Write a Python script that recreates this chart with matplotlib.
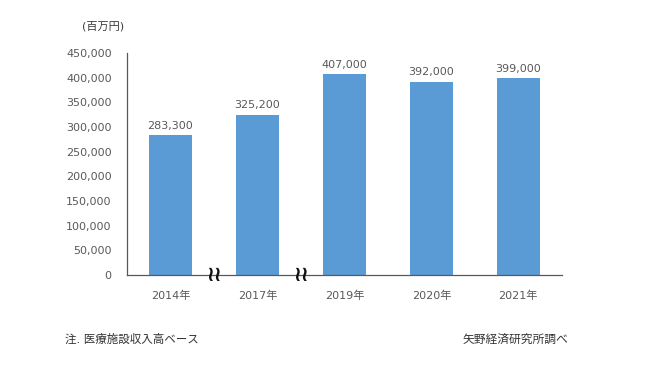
import numpy as np
import matplotlib.pyplot as plt

plt.rcParams['font.family'] = ['DejaVu Sans', 'Noto Sans CJK JP']

years = ["2014年", "2017年", "2019年", "2020年", "2021年"]
values = [283300, 325200, 407000, 392000, 399000]
yticks = np.arange(0, 450001, 50000)

gray = "#595959"
fig = plt.figure(figsize=(6.68, 3.76), dpi=100)
ax = fig.add_axes([0.190, 0.269, 0.651, 0.590])

x = np.arange(len(years))
ax.bar(x, values, width=0.5, color="#5B9BD5", zorder=2)
for xi, v in zip(x, values):
    ax.text(xi, v + 9000, f"{v:,}", ha="center", va="bottom", fontsize=8, color=gray)

ax.set_xlim(-0.5, len(years) - 0.5)
ax.set_ylim(0, 450000)
ax.set_yticks(yticks)
ax.set_yticklabels([f"{t:,}" for t in yticks], fontsize=8, color=gray)
ax.set_xticks(x)
ax.set_xticklabels(years, fontsize=8, color=gray)
ax.tick_params(axis="y", length=0, pad=11)
ax.tick_params(axis="x", length=0, pad=11)
for s in ["top", "right"]:
    ax.spines[s].set_visible(False)
for s in ["left", "bottom"]:
    ax.spines[s].set_color("#595959")
    ax.spines[s].set_linewidth(0.9)

# break marks between non-consecutive years
for bx in [0.5, 1.5]:
    ax.text(bx, 0, "≀≀", ha="center", va="center", fontsize=15, fontweight="bold",
            color="#111111", zorder=5)

fig.text(0.123, 0.931, "(百万円)", fontsize=8, color="#3a3a3a", va="center")
fig.text(0.097, 0.097, "注. 医療施設収入高ベース", fontsize=8.3, color="#333333", va="center")
fig.text(0.693, 0.097, "矢野経済研究所調べ", fontsize=8.5, color="#333333", va="center")

fig.savefig("out.png", dpi=100)
